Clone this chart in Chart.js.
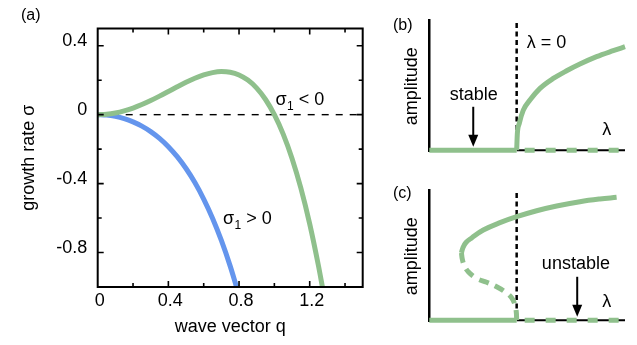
<!DOCTYPE html>
<html>
<head>
<meta charset="utf-8">
<script src="https://cdn.jsdelivr.net/npm/chart.js@4.4.0/dist/chart.umd.min.js"></script>
<style>
  html, body { margin: 0; padding: 0; background: #fff; }
  #wrap { position: relative; width: 637px; height: 345px; overflow: hidden; }
  .box { position: absolute; }
</style>
</head>
<body>
<div id="wrap">
  <div class="box" style="left:0;top:0;width:380px;height:345px"><canvas id="chartA"></canvas></div>
  <div class="box" style="left:380px;top:0;width:257px;height:172px"><canvas id="chartB"></canvas></div>
  <div class="box" style="left:380px;top:172px;width:257px;height:173px"><canvas id="chartC"></canvas></div>
</div>
<script>
const GREEN = 'rgb(143, 192, 140)';
const BLUE = 'rgb(100, 149, 237)';
const FONT = "'Liberation Sans', Arial, Helvetica, sans-serif";

// --- (a) growth rate vs wave vector --- //
const qGreen = [0, 0.05, 0.1, 0.15, 0.2, 0.25, 0.3, 0.35, 0.4, 0.45, 0.5, 0.55, 0.6, 0.65, 0.7, 0.75, 0.8, 0.85, 0.9, 0.95, 1.0, 1.05, 1.1, 1.15, 1.2, 1.25, 1.272];
const sigmaGreen = [0, 0.0025, 0.0099, 0.022, 0.0384, 0.0586, 0.0819, 0.1075, 0.1344, 0.1615, 0.1875, 0.211, 0.2304, 0.244, 0.2499, 0.2461, 0.2304, 0.2005, 0.1539, 0.088, 0, -0.113, -0.2541, -0.4265, -0.6336, -0.8789, -1.0];
const qBlue = [0, 0.05, 0.1, 0.15, 0.2, 0.25, 0.3, 0.35, 0.4, 0.45, 0.5, 0.55, 0.6, 0.65, 0.7, 0.75, 0.786];
const sigmaBlue = [0, -0.0025, -0.0101, -0.023, -0.0416, -0.0664, -0.0981, -0.1375, -0.1856, -0.2435, -0.3125, -0.394, -0.4896, -0.601, -0.7301, -0.8789, -1.0];
const qZero = [0, 1.5];
const sigmaZero = [0, 0];
const xTickLabelsA = ['0', '0.4', '0.8', '1.2'];
const yTickLabelsA = ['0.4', '0', '-0.4', '-0.8'];

// --- (b) supercritical --- //
const lamB = [0, 0.008, 0.03, 0.076, 0.152, 0.267, 0.419, 0.572, 0.724, 0.915, 1.105, 1.24];
const ampB = [0, 0.129, 0.206, 0.309, 0.387, 0.477, 0.554, 0.613, 0.665, 0.722, 0.768, 0.799];

// --- (c) subcritical --- //
const lamCUpper = [-0.632, -0.615, -0.58, -0.515, -0.382, -0.191, 0, 0.229, 0.458, 0.724, 0.953, 1.144];
const ampCUpper = [0.52, 0.56, 0.6, 0.635, 0.696, 0.753, 0.799, 0.845, 0.882, 0.915, 0.936, 0.949];
const lamCLower = [-0.632, -0.622, -0.598, -0.554, -0.458, -0.343, -0.229, -0.134, -0.06, -0.02, -0.004, 0];
const ampCLower = [0.52, 0.47, 0.42, 0.374, 0.322, 0.293, 0.258, 0.219, 0.175, 0.12, 0.06, 0];

// shared for (b), (c)
const lamStable = [-1, 0];
const lamUnstable = [0, 1.24];
const ampBase = [0, 0];
const lamCritical = [0, 0];
const ampCritical = [0.025, 1.0];

const pts = (xs, ys) => xs.map((x, i) => ({ x: x, y: ys[i] }));
const fmt = v => String(Math.round(v * 10) / 10);

function drawSigma(ctx, x, y, rest) {
    ctx.font = '18px ' + FONT;
    ctx.textBaseline = 'alphabetic';
    ctx.textAlign = 'left';
    ctx.fillText('σ', x, y);
    let w = ctx.measureText('σ').width;
    ctx.font = '12px ' + FONT;
    ctx.fillText('1', x + w + 0.5, y + 5);
    w += ctx.measureText('1').width + 0.5;
    ctx.font = '18px ' + FONT;
    ctx.fillText(rest, x + w, y);
}

function drawArrow(ctx, x, y1, y2) {
    ctx.beginPath();
    ctx.moveTo(x, y1);
    ctx.lineTo(x, y2 - 10);
    ctx.lineWidth = 2;
    ctx.strokeStyle = '#000';
    ctx.stroke();
    ctx.beginPath();
    ctx.moveTo(x - 5, y2 - 12);
    ctx.lineTo(x + 5, y2 - 12);
    ctx.lineTo(x, y2);
    ctx.closePath();
    ctx.fillStyle = '#000';
    ctx.fill();
}

Chart.defaults.font.family = FONT;
Chart.defaults.color = '#000';

// 프레임 + 안쪽 눈금
const frameA = {
    id: 'frameA',
    afterDraw(chart) {
        const { ctx, chartArea: a, scales: { x, y } } = chart;
        ctx.save();
        ctx.strokeStyle = '#000';
        ctx.lineWidth = 1.6;
        x.ticks.forEach(t => {
            if (t.value <= x.min + 1e-6 || t.value >= x.max - 1e-6) return;
            const px = x.getPixelForValue(t.value);
            const len = t.label ? 6 : 4;
            ctx.beginPath();
            ctx.moveTo(px, a.bottom); ctx.lineTo(px, a.bottom - len);
            ctx.moveTo(px, a.top); ctx.lineTo(px, a.top + len);
            ctx.stroke();
        });
        y.ticks.forEach(t => {
            if (t.value <= y.min + 1e-6 || t.value >= y.max - 1e-6) return;
            const py = y.getPixelForValue(t.value);
            const len = t.label ? 6 : 4;
            ctx.beginPath();
            ctx.moveTo(a.left, py); ctx.lineTo(a.left + len, py);
            ctx.moveTo(a.right, py); ctx.lineTo(a.right - len, py);
            ctx.stroke();
        });
        ctx.lineWidth = 2;
        ctx.strokeRect(a.left, a.top, a.right - a.left, a.bottom - a.top);

        ctx.fillStyle = '#000';
        drawSigma(ctx, x.getPixelForValue(1.006), y.getPixelForValue(0.058), ' < 0');
        drawSigma(ctx, x.getPixelForValue(0.709), y.getPixelForValue(-0.632), ' > 0');

        ctx.font = '16px ' + FONT;
        ctx.textBaseline = 'middle';
        ctx.fillText('(a)', 21, 16);
        ctx.restore();
    }
};

new Chart(document.getElementById('chartA'), {
    type: 'line',
    data: {
        datasets: [
            { data: pts(qGreen, sigmaGreen), borderColor: GREEN, borderWidth: 5, pointRadius: 0, cubicInterpolationMode: 'monotone', clip: false },
            { data: pts(qBlue, sigmaBlue), borderColor: BLUE, borderWidth: 5, pointRadius: 0, cubicInterpolationMode: 'monotone', clip: false },
            { data: pts(qZero, sigmaZero), borderColor: '#000', borderWidth: 1.4, borderDash: [7, 7], pointRadius: 0 }
        ]
    },
    options: {
        responsive: true,
        maintainAspectRatio: false,
        animation: false,
        layout: { padding: { left: 0, top: 28.5, right: 17.3, bottom: 0 } },
        plugins: { legend: { display: false }, tooltip: { enabled: false } },
        scales: {
            x: {
                type: 'linear', min: 0, max: 1.5,
                grid: { display: false, drawTicks: false },
                border: { display: false },
                ticks: {
                    stepSize: 0.2, includeBounds: false, padding: 3, labelOffset: 2,
                    font: { size: 18 }, maxRotation: 0, autoSkip: false,
                    callback: v => xTickLabelsA.includes(fmt(v)) ? fmt(v) : ''
                },
                title: { display: true, text: 'wave vector q', font: { size: 18 }, padding: { top: 0, bottom: 7 } },
                afterFit: s => { s.height = 58; }
            },
            y: {
                type: 'linear', min: -1, max: 0.5,
                grid: { display: false, drawTicks: false },
                border: { display: false },
                ticks: {
                    stepSize: 0.2, includeBounds: false, padding: 10.5, labelOffset: -5,
                    font: { size: 18 }, autoSkip: false,
                    callback: v => yTickLabelsA.includes(fmt(v)) ? fmt(v) : ''
                },
                title: { display: true, text: 'growth rate σ', font: { size: 18 }, padding: { top: 18, bottom: 0 } },
                afterFit: s => { s.width = 97.7; }
            }
        }
    },
    plugins: [frameA]
});

// --- (b), (c) 공통 --- //
function panelOptions(padBottom, padTop) {
    return {
        responsive: true,
        maintainAspectRatio: false,
        animation: false,
        layout: { padding: { left: 0, top: padTop, right: 12, bottom: padBottom } },
        plugins: { legend: { display: false }, tooltip: { enabled: false } },
        scales: {
            x: { type: 'linear', min: -1, max: 1.24, display: false },
            y: {
                type: 'linear', min: -0.012, max: 1,
                grid: { display: false, drawTicks: false },
                border: { display: true, color: '#000', width: 2.5 },
                ticks: { display: false },
                title: { display: true, text: 'amplitude', font: { size: 18 }, padding: { top: 21, bottom: 0 } },
                afterFit: s => { s.width = 49.3; }
            }
        }
    };
}

const baseSets = () => [
    { data: pts(lamStable, ampBase), borderColor: GREEN, borderWidth: 5, pointRadius: 0, clip: false },
    { data: pts(lamUnstable, ampBase), borderColor: GREEN, borderWidth: 5, borderDash: [10, 11], borderDashOffset: -8, pointRadius: 0, clip: false },
    { data: pts(lamCritical, ampCritical), borderColor: '#000', borderWidth: 2.5, borderDash: [5, 3.5], pointRadius: 0, clip: false },
    { data: pts(lamUnstable, ampBase), borderColor: '#000', borderWidth: 2, pointRadius: 0, clip: false }
];

function textB(chart) {
    const { ctx, scales: { x, y } } = chart;
    ctx.save();
    ctx.fillStyle = '#000';
    ctx.font = '18px ' + FONT;
    ctx.textBaseline = 'middle';
    ctx.textAlign = 'left';
    ctx.fillText('λ = 0', x.getPixelForValue(0.114), y.getPixelForValue(0.825));
    ctx.textAlign = 'center';
    ctx.fillText('stable', x.getPixelForValue(-0.49), y.getPixelForValue(0.425));
    ctx.fillText('λ', x.getPixelForValue(1.03), y.getPixelForValue(0.155));
    drawArrow(ctx, x.getPixelForValue(-0.497), y.getPixelForValue(0.335), y.getPixelForValue(0.026));
    ctx.font = '16px ' + FONT;
    ctx.textAlign = 'left';
    ctx.fillText('(b)', 13, 26);
    ctx.restore();
}

function textC(chart) {
    const { ctx, scales: { x, y } } = chart;
    ctx.save();
    ctx.fillStyle = '#000';
    ctx.font = '18px ' + FONT;
    ctx.textBaseline = 'middle';
    ctx.textAlign = 'center';
    ctx.fillText('unstable', x.getPixelForValue(0.678), y.getPixelForValue(0.431));
    ctx.fillText('λ', x.getPixelForValue(1.03), y.getPixelForValue(0.142));
    drawArrow(ctx, x.getPixelForValue(0.693), y.getPixelForValue(0.335), y.getPixelForValue(0.026));
    ctx.font = '16px ' + FONT;
    ctx.textAlign = 'left';
    ctx.fillText('(c)', 13, 21.5);
    ctx.restore();
}

new Chart(document.getElementById('chartB'), {
    type: 'line',
    data: {
        datasets: [
            { data: pts(lamB, ampB), borderColor: GREEN, borderWidth: 5, pointRadius: 0, cubicInterpolationMode: 'monotone', clip: false },
            ...baseSets()
        ]
    },
    options: panelOptions(20.3, 20.7),
    plugins: [{ id: 'textB', afterDatasetsDraw: textB }]
});

new Chart(document.getElementById('chartC'), {
    type: 'line',
    data: {
        datasets: [
            { data: pts(lamCUpper, ampCUpper), borderColor: GREEN, borderWidth: 5, pointRadius: 0, tension: 0.4, clip: false },
            { data: pts(lamCLower, ampCLower), borderColor: GREEN, borderWidth: 5, borderDash: [10, 7], pointRadius: 0, tension: 0.4, clip: false },
            ...baseSets()
        ]
    },
    options: panelOptions(23.3, 18.7),
    plugins: [{ id: 'textC', afterDatasetsDraw: textC }]
});
</script>
</body>
</html>
